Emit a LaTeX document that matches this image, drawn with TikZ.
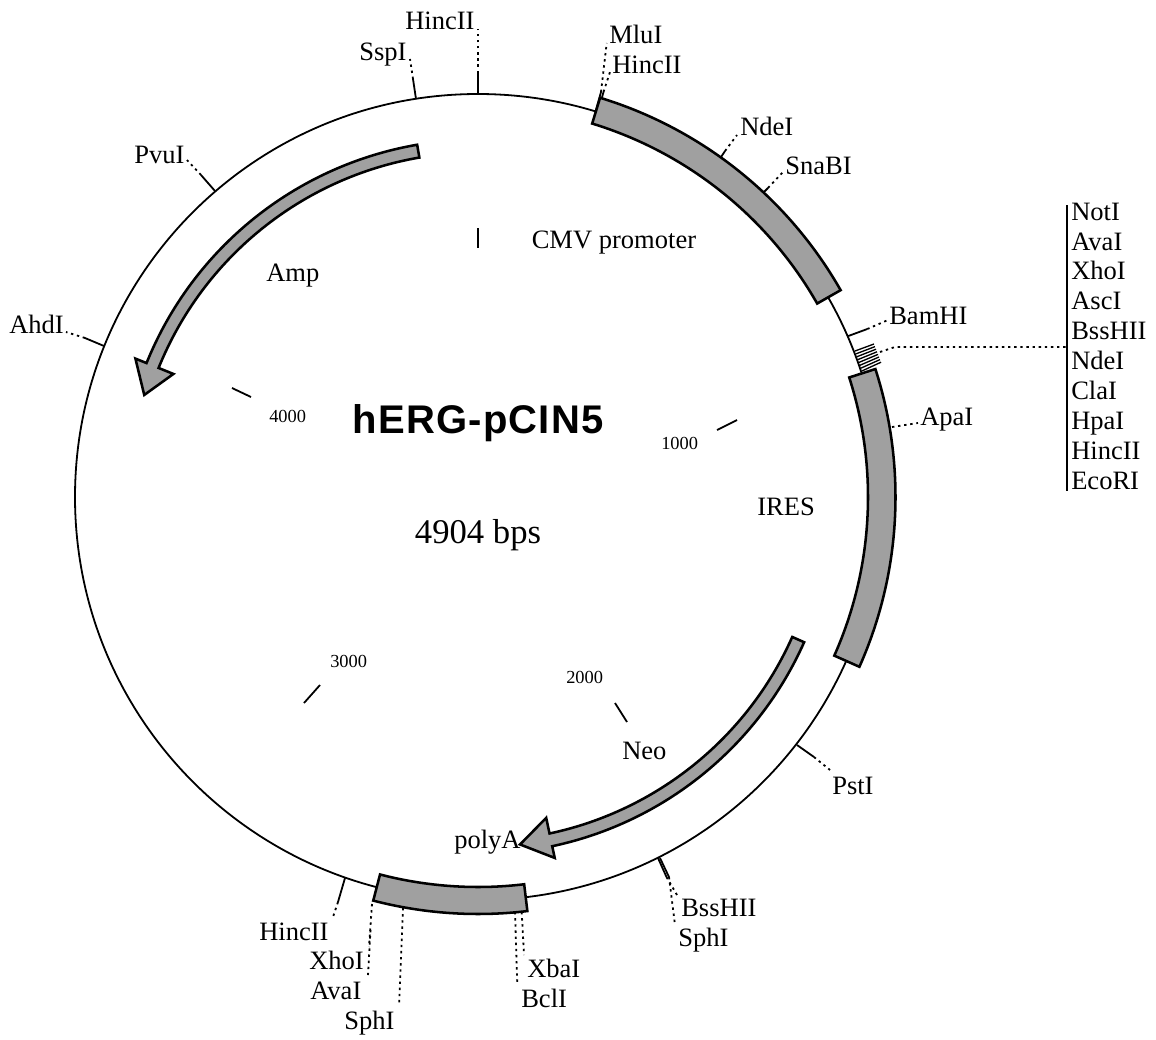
\documentclass[tikz,border=0pt]{standalone}
\usepackage{fontspec}
\setmainfont{Liberation Serif}
\newfontfamily\titlefont[LetterSpace=3]{Liberation Sans}
\definecolor{bandgray}{HTML}{A0A0A0}
\tikzset{
  lbl/.style={inner sep=0pt,anchor=base west,font=\fontsize{19.9}{22}\selectfont},
  smalllbl/.style={inner sep=0pt,anchor=base west,font=\fontsize{13.8}{16}\selectfont},
  backbone/.style={line width=1.35pt},
  tick/.style={line width=1.35pt},
  lead/.style={line width=1.35pt,dash pattern=on 1.8pt off 2.8pt},
  band/.style={draw=black,fill=bandgray,line width=1.9pt,line join=miter},
}
% solid tick a--b, dotted leader b--c
\newcommand\site[4]{%
  \coordinate (#1-a) at (#2);
  \coordinate (#1-b) at (#3);
  \coordinate (#1-c) at (#4);
  \draw[tick] (#1-a) -- (#1-b);
  \draw[lead] (#1-b) -- (#1-c);
}
\newcommand\innertick[3]{%
  \coordinate (#1-a) at (#2);
  \coordinate (#1-b) at (#3);
  \draw[tick] (#1-a) -- (#1-b);
}
\begin{document}
\begin{tikzpicture}[x=0.75pt,y=0.75pt]
\useasboundingbox (0,0) rectangle (1156,-1039);
\coordinate (c) at (478,-497);
\node[draw,circle,backbone,minimum size=604.5pt,inner sep=0pt] (plasmid) at (c) {};

% restriction sites
\site{hincTop}{478,-94}{478,-73}{478,-29}
\site{ssp}{416,-99}{413,-79}{410,-59}
\site{pvu}{215,-191}{201,-175}{187,-160}
\site{ahd}{104,-346}{85,-338}{66,-332}
\site{nde}{721,-157}{725,-151}{737,-135}
\site{sna}{763,-193}{768,-188}{783,-172}
\site{bam}{848.3,-336}{867.3,-329}{888,-320}
\site{pst}{797,-745}{814,-757}{830,-770}
\site{hincBot}{345,-878}{338,-902}{333,-917}
\site{mlu}{596,-110}{601,-92}{606.7,-43}
\coordinate (hincM-a) at (603.5,-92);
\coordinate (hincM-b) at (610,-72);
\draw[lead] (hincM-a) -- (hincM-b);
\draw[tick] (598.5,-110) -- (603.5,-92);
\site{bss}{658,-858}{666.5,-877}{677,-895}
\coordinate (sphR-a) at (660,-858);
\coordinate (sphR-b) at (669,-877);
\coordinate (sphR-c) at (675,-925);
\draw[tick] (sphR-a) -- (sphR-b);
\draw[lead] (sphR-b) -- (sphR-c);

% multiple cloning site
\foreach \i in {0,...,7}{
  \pgfmathsetmacro\ya{-351-2.85*\i}
  \pgfmathsetmacro\yb{-344-2.6*\i}
  \pgfmathsetmacro\xa{855+\i}
  \pgfmathsetmacro\xb{874+\i}
  \draw[line width=1pt] (\xa,\ya) -- (\xb,\yb);
}
\coordinate (mcsLead) at (880,-352);
\coordinate (mcsBend) at (895,-347);
\coordinate (mcsEnd) at (1067,-347);
\coordinate (mcsTop) at (1067,-205);
\coordinate (mcsBot) at (1067,-491);
\draw[lead] (mcsLead) -- (mcsBend) -- (mcsEnd);
\draw[tick] (mcsTop) -- (mcsBot);

% bands and arrows
\begin{scope}[shift={(478,-497)}]
  \draw[band] (73:417.5) arc[start angle=73,end angle=29.7,radius=417.5] -- (29.7:390.5) arc[start angle=29.7,end angle=73,radius=390.5] -- cycle;
  \draw[band] (17.85:417.5) arc[start angle=17.85,end angle=-24,radius=417.5] -- (-24:390) arc[start angle=-24,end angle=17.85,radius=390] -- cycle;
  \draw[band] (-83.2:417) arc[start angle=-83.2,end angle=-104.55,radius=417] -- (-104.55:390) arc[start angle=-104.55,end angle=-83.2,radius=390] -- cycle;
  \draw[band] (99.8:357.5) arc[start angle=99.8,end angle=158,radius=357.5] -- (158:369.5) -- (163:349) -- (158:328.5) -- (158:344.5) arc[start angle=158,end angle=99.8,radius=344.5] -- cycle;
  \draw[band] (-24:357) arc[start angle=-24,end angle=-78,radius=357] -- (-78:369) -- (-83.1:350) -- (-78:328) -- (-78:344) arc[start angle=-78,end angle=-24,radius=344] -- cycle;
\end{scope}

% leaders from band edges
\coordinate (apa-a) at (892,-427);
\coordinate (apa-b) at (918,-423);
\draw[lead] (apa-a) -- (apa-b);
\coordinate (xba-a) at (521.7,-912);
\coordinate (xba-b) at (524,-955);
\draw[lead] (xba-a) -- (xba-b);
\coordinate (bcl-a) at (515,-912);
\coordinate (bcl-b) at (517.3,-985);
\draw[lead] (bcl-a) -- (bcl-b);
\coordinate (sphB-a) at (403,-908);
\coordinate (sphB-b) at (399,-1006);
\draw[lead] (sphB-a) -- (sphB-b);
\coordinate (xho-a) at (372,-904);
\coordinate (xho-b) at (369,-947);
\draw[lead] (xho-a) -- (xho-b);
\coordinate (ava-a) at (370.5,-930);
\coordinate (ava-b) at (368,-975);
\draw[lead] (ava-a) -- (ava-b);

% scale ticks
\innertick{s0}{478,-228}{478,-248}
\innertick{s1}{717,-430}{737,-420}
\innertick{s2}{615,-703}{627,-722}
\innertick{s3}{304,-703}{320,-685}
\innertick{s4}{232,-388}{251,-397}

% site labels
\node[lbl] (lHincTop) at (405,-29) {HincII};
\node[lbl] (lSsp) at (359,-60) {SspI};
\node[lbl] (lPvu) at (134,-163) {PvuI};
\node[lbl] (lAhd) at (9,-333) {AhdI};
\node[lbl] (lMlu) at (609,-43) {MluI};
\node[lbl] (lHincM) at (612,-73) {HincII};
\node[lbl] (lNde) at (740,-135) {NdeI};
\node[lbl] (lSna) at (785,-174) {SnaBI};
\node[lbl] (lBam) at (889,-324) {BamHI};
\node[lbl] (lApa) at (920,-425) {ApaI};
\node[lbl] (lPst) at (832,-794) {PstI};
\node[lbl] (lBss) at (681,-916) {BssHII};
\node[lbl] (lSphR) at (678,-946) {SphI};
\node[lbl] (lXba) at (527,-977) {XbaI};
\node[lbl] (lBcl) at (521,-1007) {BclI};
\node[lbl] (lHincBot) at (259,-940) {HincII};
\node[lbl] (lXho) at (309,-969) {XhoI};
\node[lbl] (lAva) at (310,-999) {AvaI};
\node[lbl] (lSphB) at (344,-1029) {SphI};

% MCS labels
\node[lbl] (m1) at (1071,-220) {NotI};
\node[lbl] (m2) at (1071,-250) {AvaI};
\node[lbl] (m3) at (1071,-279) {XhoI};
\node[lbl] (m4) at (1071,-309) {AscI};
\node[lbl] (m5) at (1071,-339) {BssHII};
\node[lbl] (m6) at (1071,-369) {NdeI};
\node[lbl] (m7) at (1071,-399) {ClaI};
\node[lbl] (m8) at (1071,-429) {HpaI};
\node[lbl] (m9) at (1071,-459) {HincII};
\node[lbl] (m10) at (1071,-489) {EcoRI};

% feature labels
\node[lbl] (fCmv) at (531.5,-248) {CMV promoter};
\node[lbl] (fAmp) at (266,-281) {Amp};
\node[lbl] (fIres) at (757,-515) {IRES};
\node[lbl] (fNeo) at (622,-759) {Neo};
\node[lbl] (fPoly) at (454,-848) {polyA};

% scale labels
\node[smalllbl] (n1) at (661,-449) {1000};
\node[smalllbl] (n2) at (566,-683) {2000};
\node[smalllbl] (n3) at (330,-667) {3000};
\node[smalllbl] (n4) at (269,-422) {4000};

% title
\node[inner sep=0pt,anchor=base,font=\titlefont\bfseries\fontsize{30}{34}\selectfont] (title) at (478,-433) {hERG-pCIN5};
\node[inner sep=0pt,anchor=base,font=\fontsize{26}{30}\selectfont] (size) at (478,-543) {4904 bps};
\end{tikzpicture}
\end{document}
